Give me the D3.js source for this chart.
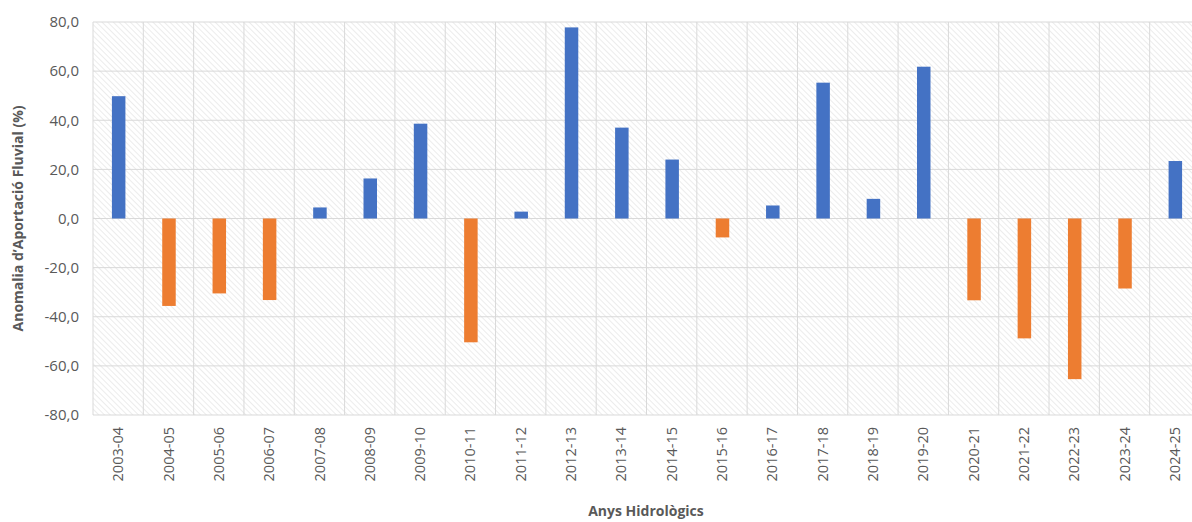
<!DOCTYPE html>
<html><head><meta charset="utf-8">
<script src="https://cdn.jsdelivr.net/npm/d3@7"></script>
<style>body{margin:0;background:#fff;overflow:hidden}svg{display:block;font-family:"Open Sans",sans-serif}</style>
</head><body><svg id="c" width="1192" height="522"></svg>
<script>
const categories = ["2003-04","2004-05","2005-06","2006-07","2007-08","2008-09","2009-10","2010-11","2011-12","2012-13","2013-14","2014-15","2015-16","2016-17","2017-18","2018-19","2019-20","2020-21","2021-22","2022-23","2023-24","2024-25"];
const values = [49.8,-35.6,-30.5,-33.2,4.5,16.3,38.6,-50.4,2.8,77.8,37.0,24.0,-7.7,5.3,55.3,8.0,61.8,-33.3,-48.8,-65.4,-28.5,23.4];
const yTicks = [-80,-60,-40,-20,0,20,40,60,80];
const xTitle = "Anys Hidrològics";
const yTitle = "Anomalia d\u2019Aportació Fluvial (%)";

const svg = d3.select("#c");
const W = 1192, H = 522;
const plotL = 93, plotR = 1200, plotT = 22, plotB = 415;
const x = d3.scaleBand().domain(categories).range([plotL, plotR]).paddingInner(0).paddingOuter(0);
const y = d3.scaleLinear().domain([-80,80]).range([plotB, plotT]);

const defs = svg.append("defs");
const pat = defs.append("pattern").attr("id","hatch").attr("patternUnits","userSpaceOnUse")
  .attr("width",4).attr("height",4).attr("patternTransform","rotate(-45)");
pat.append("rect").attr("width",4).attr("height",4).attr("fill","#fff");
pat.append("line").attr("x1",0).attr("y1",0).attr("x2",0).attr("y2",4).attr("stroke","#e2e2e2").attr("stroke-width",1.3);

svg.append("rect").attr("x",plotL).attr("y",plotT).attr("width",plotR-plotL).attr("height",plotB-plotT).attr("fill","url(#hatch)");

// grid
svg.append("g").selectAll("line").data(yTicks).join("line")
  .attr("x1",plotL).attr("x2",plotR).attr("y1",d=>y(d)).attr("y2",d=>y(d))
  .attr("stroke","#d9d9d9").attr("stroke-width",1);
const bounds = categories.map(c=>x(c)).concat([plotR]);
svg.append("g").selectAll("line").data(bounds).join("line")
  .attr("x1",d=>d).attr("x2",d=>d).attr("y1",plotT).attr("y2",plotB)
  .attr("stroke","#d9d9d9").attr("stroke-width",1);

// bars
const bw = 13.5;
svg.append("g").selectAll("rect").data(categories).join("rect")
  .attr("x",(c)=>x(c)+x.bandwidth()/2 - bw/2 + 0.5)
  .attr("width",bw)
  .attr("y",(c,i)=>y(Math.max(0,values[i])))
  .attr("height",(c,i)=>Math.abs(y(values[i])-y(0)))
  .attr("fill",(c,i)=>values[i]>=0?"#4472C4":"#ED7D31");

// y axis
const fmt = d=>d3.format(".1f")(d).replace(".",",").replace("\u2212","-");
const ya = svg.append("g").attr("transform",`translate(${plotL},0)`)
  .call(d3.axisLeft(y).tickValues(yTicks).tickSize(0).tickPadding(14).tickFormat(fmt));
ya.select(".domain").remove();
ya.selectAll("text").attr("font-size",15).attr("fill","#595959").attr("font-family","'Open Sans',sans-serif");

// x axis
const xa = svg.append("g").attr("transform",`translate(0,${plotB})`)
  .call(d3.axisBottom(x).tickSize(0));
xa.select(".domain").remove();
xa.selectAll("text").attr("font-size",14.5).attr("fill","#595959").attr("font-family","'Open Sans',sans-serif")
  .attr("transform","rotate(-90)").attr("text-anchor","end").attr("dx","-12").attr("dy","0.35em").attr("y",0).attr("x",0);

svg.append("text").attr("x",646).attr("y",516).attr("text-anchor","middle")
  .attr("font-size",14).attr("font-weight","bold").attr("fill","#595959").text(xTitle);
svg.append("text").attr("transform",`translate(23,${y(0)}) rotate(-90)`).attr("text-anchor","middle")
  .attr("font-size",14).attr("font-weight","bold").attr("fill","#595959").text(yTitle);
</script></body></html>
